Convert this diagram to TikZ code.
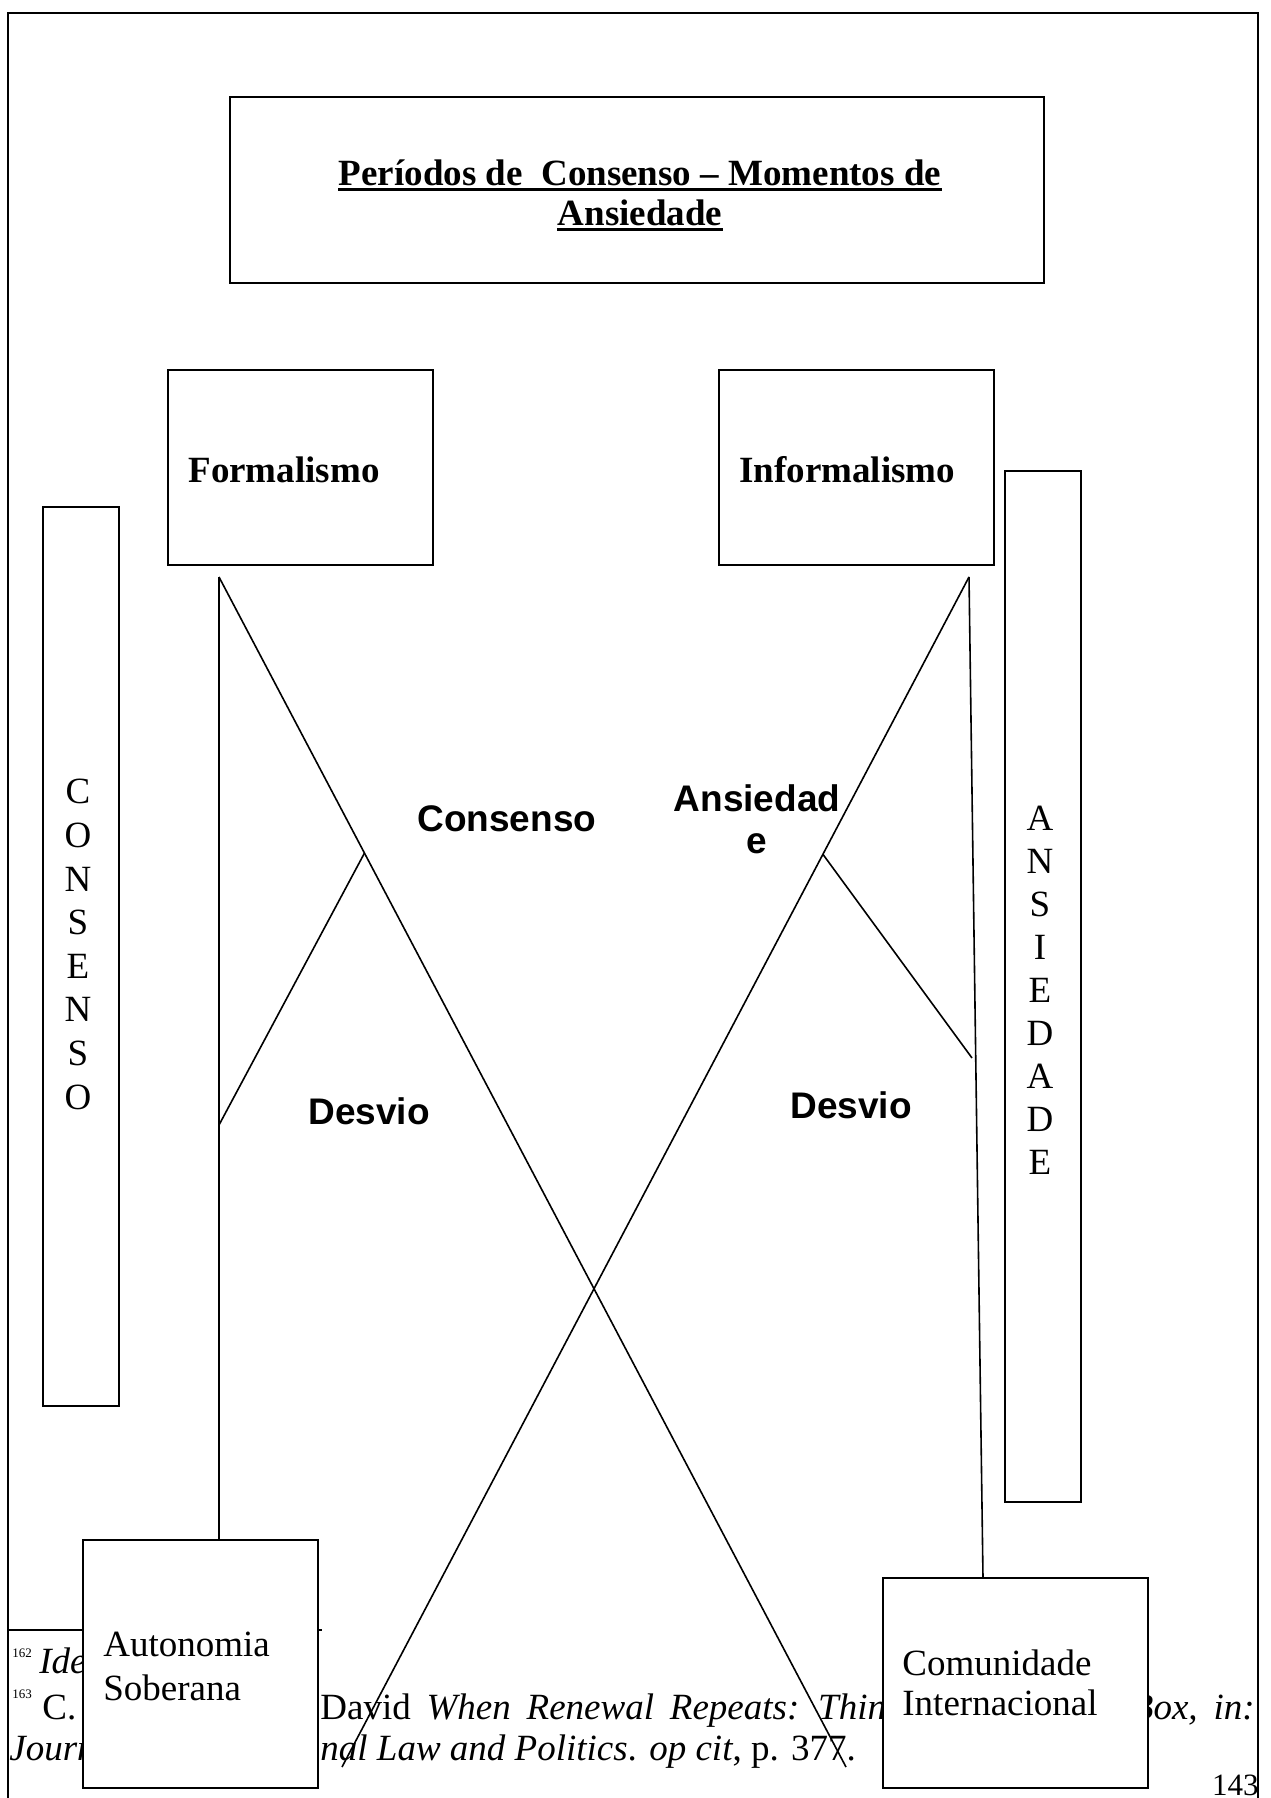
\documentclass[tikz,border=0pt]{standalone}
\usepackage{fontspec}
\setmainfont{Liberation Serif}
\setsansfont{Liberation Sans}
\usetikzlibrary{calc,fit}

\newcommand\bodysize{\fontsize{18.5}{22}\selectfont}

\begin{document}
\begin{tikzpicture}[x=0.5pt,y=-0.5pt,
  box/.style={draw, line width=1pt, fill=white, inner sep=0pt},
  link/.style={line width=0.8pt},
  lbl/.style={inner sep=0pt, font=\bodysize},
  boldlbl/.style={inner sep=0pt, font=\bodysize\bfseries},
  sanslbl/.style={inner sep=0pt, font=\bodysize\sffamily\bfseries},
  notenum/.style={inner sep=0pt, font=\fontsize{6.5}{7.5}\selectfont},
  uline/.style={line width=1.1pt}]

\useasboundingbox (0,0) rectangle (1270,1798);

% page frame, open at the bottom
\draw[line width=1pt] (8,1798) -- (8,13) -- (1258,13) -- (1258,1798);

% footnote area
\draw[line width=0.8pt] (8,1630) -- (322,1630);
\node[notenum, anchor=base west] (n162) at (12,1657) {162};
\node[lbl, anchor=base west] (f162) at (39,1673) {\itshape Ide};
\node[notenum, anchor=base west] (n163) at (12,1698) {163};
\node[lbl, anchor=base west] (f163a) at (42,1719) {C.};
\node[lbl, anchor=base west] (f163b) at (320,1719)
  {\spaceskip=7.9pt David \textit{When Renewal Repeats: Think}};
\node[lbl, anchor=base east] (f163c) at (1255,1719) {\spaceskip=7.9pt\itshape Box, in:};
\node[lbl, anchor=base west] (f164a) at (9,1760) {\itshape Journ};
\node[lbl, anchor=base west] (f164b) at (320,1760)
  {\textit{nal Law and Politics}. \textit{op cit}, p. 377.};
\node[inner sep=0pt, font=\fontsize{15.5}{18}\selectfont, anchor=base east] (pg) at (1259,1795) {143};

% junction points and free ends
\coordinate (fj) at (219,577);
\coordinate (ij) at (969,577);
\coordinate (fend) at (846,1767);
\coordinate (iend) at (342,1767);
\coordinate (fb) at (219,1125);
\coordinate (ib) at (972,1058);

% boxes
\node[box, fit={(230,97)(1044,283)}] (title) {};
\node[box, fit={(168,370)(433,565)}] (form) {};
\node[box, fit={(719,370)(994,565)}] (inform) {};
\node[box, fit={(43,507)(119,1406)}] (cons) {};
\node[box, fit={(1005,471)(1081,1502)}] (ansi) {};

% connectors
\draw[link] (fj) -- (fj |- 0,1540);
\draw[link] (fj) -- (fend);
\draw[link] ($(fj)!0.232!(fend)$) -- (fb);
\draw[link] (ij) -- (iend);
\draw[link] (ij) -- (983,1578);
\draw[link] ($(ij)!0.233!(iend)$) -- (ib);

\node[box, fit={(83,1540)(318,1788)}] (auto) {};
\node[box, fit={(883,1578)(1148,1788)}] (comu) {};

% title
\node[boldlbl, anchor=base] (t1) at (640,185) {Períodos de\ \ Consenso – Momentos de};
\node[boldlbl, anchor=base] (t2) at (640,225) {Ansiedade};
\draw[uline] ([yshift=-2.2pt]t1.base west) -- ([yshift=-2.2pt]t1.base east);
\draw[uline] ([yshift=-2.2pt]t2.base west) -- ([yshift=-2.2pt]t2.base east);

% box labels
\node[boldlbl, anchor=base west] (formt) at (188,482) {Formalismo};
\node[boldlbl, anchor=base west] (informt) at (739,482) {Informalismo};
\node[inner sep=0pt, font=\fontsize{18.5}{21.8}\selectfont, align=center, anchor=north] (const) at (78,779)
  {C\\O\\N\\S\\E\\N\\S\\O};
\node[inner sep=0pt, font=\fontsize{18.5}{21.5}\selectfont, align=center, anchor=north] (ansit) at (1040,806)
  {A\\N\\S\\I\\E\\D\\A\\D\\E};
\node[inner sep=0pt, font=\bodysize, align=left, anchor=north west] (autot) at (103,1632)
  {Autonomia\\Soberana};
\node[inner sep=0pt, font=\fontsize{18.5}{20}\selectfont, align=left, anchor=north west] (comut) at (902,1649)
  {Comunidade\\Internacional};

% labels along the lines
\node[sanslbl, anchor=base west] (lcons) at (417,831) {Consenso};
\node[inner sep=0pt, font=\fontsize{18.5}{21}\selectfont\sffamily\bfseries, align=center, anchor=north] (lans) at (757,784)
  {Ansiedad\\e};
\node[sanslbl, anchor=base west] (ldes1) at (308,1124) {Desvio};
\node[sanslbl, anchor=base west] (ldes2) at (790,1118) {Desvio};

\end{tikzpicture}
\end{document}
